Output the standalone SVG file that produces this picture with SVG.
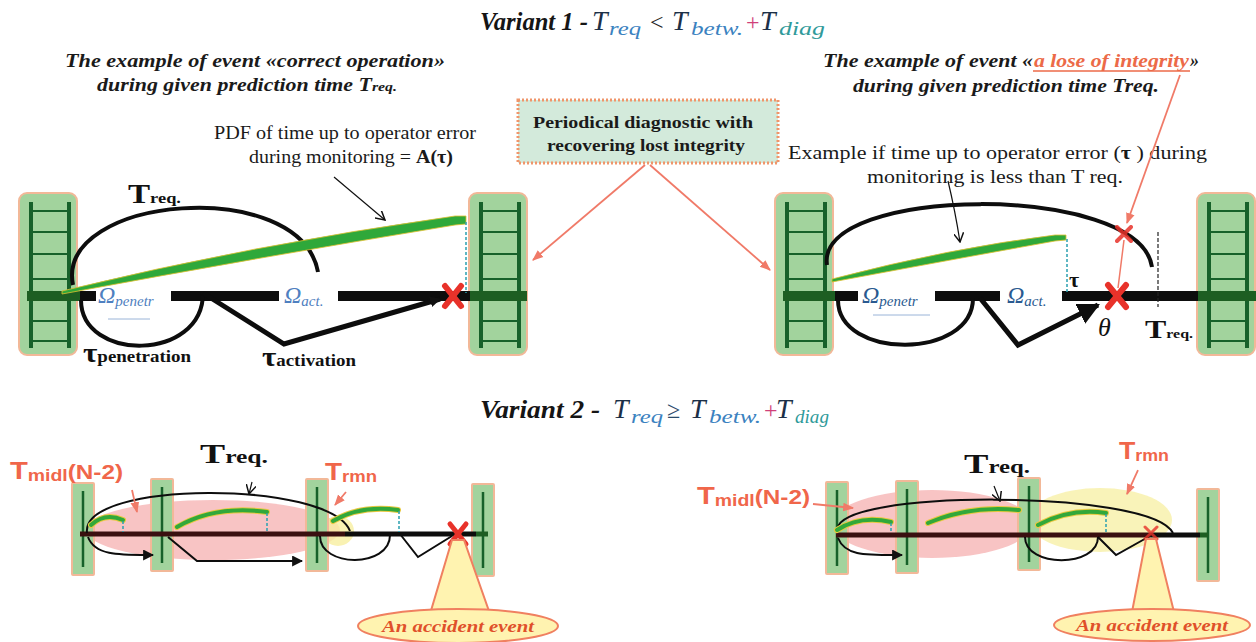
<svg xmlns="http://www.w3.org/2000/svg" xmlns:xlink="http://www.w3.org/1999/xlink" width="1256" height="642" viewBox="0 0 1256 642">
<style>
.serif{font-family:"Liberation Serif","Times New Roman",serif}
.ttl{font-family:"Liberation Serif","Times New Roman",serif;font-weight:bold;font-style:italic;font-size:25px;fill:#151515}
.tv{font-family:"Liberation Serif","Times New Roman",serif;font-style:italic;font-size:28px;fill:#1c3048}
.tsub{font-family:"Liberation Serif","Times New Roman",serif;font-style:italic;font-size:18px;fill:#3b82c0}
.sub{font-family:"Liberation Serif","Times New Roman",serif;font-weight:bold;font-style:italic;font-size:18px;fill:#1a1a1a}
.body{font-family:"Liberation Serif","Times New Roman",serif;font-size:18px;fill:#1a1a1a}
.boxt{font-family:"Liberation Serif","Times New Roman",serif;font-weight:bold;font-size:17px;fill:#1a1a1a}
.om{font-family:"Liberation Serif","Times New Roman",serif;font-style:italic;fill:#2a5a90}
.lbl{font-family:"Liberation Serif","Times New Roman",serif;font-weight:bold;fill:#111}
.red{font-family:"Liberation Sans",Arial,sans-serif;font-weight:bold;fill:#f0664a}
.acc{font-family:"Liberation Serif","Times New Roman",serif;font-weight:bold;font-style:italic;font-size:17px;fill:#e0502a}
.bar{stroke-width:10;fill:none}
.blk{stroke:#0d0d0d}
.grn{stroke:#1d5e22}
.arc{fill:none;stroke:#0d0d0d;stroke-width:4}
.arc2{fill:none;stroke:#0d0d0d;stroke-width:2}
.pdfy{fill:none;stroke:#e8c840;stroke-width:6;stroke-linecap:round}
.pdfg{fill:none;stroke:#32a83a;stroke-width:4;stroke-linecap:round}
.dash{stroke:#2aa0b0;stroke-width:1.5;stroke-dasharray:3 2}
.xr{stroke:#e8322a;stroke-linecap:round}
.redln{stroke:#f07a68;stroke-width:1.8;fill:none}
.rail{fill:#a2d39d;stroke:#f2b898;stroke-width:2}
.rl{stroke:#17612a}
.callout{fill:#fff3b0;stroke:#f08060;stroke-width:2}
</style>
<defs>
<marker id="ahRed" viewBox="0 0 10 10" refX="9" refY="5" markerWidth="11" markerHeight="11" markerUnits="userSpaceOnUse" orient="auto"><path d="M0,1 L10,5 L0,9 z" fill="#f07a68"/></marker>
<marker id="ahV" viewBox="0 0 10 10" refX="9" refY="5" markerWidth="10" markerHeight="10" markerUnits="userSpaceOnUse" orient="auto"><path d="M0,0 L9,5 L0,10" fill="none" stroke="#111" stroke-width="1.5"/></marker>
<marker id="ahF" viewBox="0 0 10 10" refX="9" refY="5" markerWidth="11" markerHeight="11" markerUnits="userSpaceOnUse" orient="auto"><path d="M0,0 L10,5 L0,10 z" fill="#111"/></marker>
<marker id="ahBig" viewBox="0 0 10 10" refX="9" refY="5" markerWidth="22" markerHeight="22" markerUnits="userSpaceOnUse" orient="auto"><path d="M0,0 L10,5 L0,10 z" fill="#0d0d0d"/></marker>
<g id="railBig">
<rect x="0" y="0" width="58" height="162" rx="8" class="rail"/>
<g class="rl" stroke-width="4"><line x1="12" y1="9" x2="12" y2="155"/><line x1="50" y1="9" x2="50" y2="155"/></g>
<g class="rl" stroke-width="2"><line x1="12" y1="18" x2="50" y2="18"/><line x1="12" y1="39" x2="50" y2="39"/><line x1="12" y1="61" x2="50" y2="61"/><line x1="12" y1="86" x2="50" y2="86"/><line x1="12" y1="106" x2="50" y2="106"/><line x1="12" y1="128" x2="50" y2="128"/><line x1="12" y1="148" x2="50" y2="148"/></g>
</g>
<g id="railSmall">
<rect x="0" y="0" width="22" height="92" class="rail" rx="1"/>
<line x1="11" y1="8" x2="11" y2="84" class="rl" stroke-width="2.5"/>
</g>
</defs>
<rect width="1256" height="642" fill="#ffffff"/>

<g id="title1">
<text x="480" y="30" class="ttl" textLength="108" lengthAdjust="spacingAndGlyphs">Variant 1 -</text>
<text x="592" y="30" class="tv">T</text><text x="609" y="35" class="tsub" textLength="32" lengthAdjust="spacingAndGlyphs">req</text>
<text x="650" y="30" class="serif" font-size="24" fill="#222">&lt;</text>
<text x="672" y="30" class="tv">T</text><text x="691" y="35" class="tsub" textLength="52" lengthAdjust="spacingAndGlyphs">betw.</text>
<text x="746" y="30" class="serif" font-size="24" fill="#d0407a">+</text>
<text x="760" y="30" class="tv">T</text><text x="779" y="35" class="tsub" style="fill:#2f9a9a" textLength="46" lengthAdjust="spacingAndGlyphs">diag</text>
</g>

<g id="subtitle-left">
<text x="65" y="67" class="sub" textLength="380" lengthAdjust="spacingAndGlyphs">The example of event «correct operation»</text>
<text x="97" y="91" class="sub" textLength="300" lengthAdjust="spacingAndGlyphs">during given prediction time T<tspan font-size="13">req.</tspan></text>
</g>

<g id="subtitle-right">
<text x="823" y="67" class="sub" textLength="210" lengthAdjust="spacingAndGlyphs">The example of event «</text>
<text x="1034" y="67" class="sub" style="fill:#ec6a48" textLength="155" lengthAdjust="spacingAndGlyphs">a lose of integrity</text>
<line x1="1033" y1="71" x2="1190" y2="71" stroke="#ec6a48" stroke-width="1.5"/>
<text x="1190" y="67" class="sub">»</text>
<text x="853" y="92" class="sub" textLength="306" lengthAdjust="spacingAndGlyphs">during given prediction time Treq.</text>
</g>

<g id="diag-box">
<rect x="518" y="100" width="260" height="63" fill="#d3eadb" stroke="#f0956a" stroke-width="3" stroke-dasharray="2 2"/>
<text x="533" y="128" class="boxt" textLength="220" lengthAdjust="spacingAndGlyphs">Periodical  diagnostic with</text>
<text x="547" y="151" class="boxt" textLength="198" lengthAdjust="spacingAndGlyphs">recovering  lost integrity</text>
</g>

<g id="pdf-label">
<text x="214" y="139" class="body" textLength="262" lengthAdjust="spacingAndGlyphs">PDF  of time up to operator error</text>
<text x="249" y="163" class="body" textLength="204" lengthAdjust="spacingAndGlyphs">during monitoring = <tspan font-weight="bold">A(τ)</tspan></text>
</g>

<g id="example-label">
<text x="788" y="159" class="body" textLength="419" lengthAdjust="spacingAndGlyphs">Example if time up to operator error (<tspan font-weight="bold">τ</tspan> ) during</text>
<text x="867" y="183" class="body" textLength="256" lengthAdjust="spacingAndGlyphs">monitoring is less than T req.</text>
</g>

<g id="left-diagram">
<use xlink:href="#railBig" x="19" y="193"/>
<use xlink:href="#railBig" x="469" y="193"/>
<line x1="27" y1="296" x2="80" y2="296" class="bar grn"/>
<g class="bar blk"><line x1="80" y1="296" x2="96" y2="296"/><line x1="171" y1="296" x2="279" y2="296"/><line x1="338" y1="296" x2="472" y2="296"/></g>
<line x1="470" y1="296" x2="527" y2="296" class="bar grn"/>
<path d="M73 285 C55 195 300 175 318 272" class="arc"/>
<path d="M81 300 C81 362 203 362 203 293" class="arc"/>
<path d="M62 291 Q250 245 455 216 L466 216 L466 224 L455 225 Q255 258 62 294 Z" fill="#2fa83a" stroke="#e0c030" stroke-width="0.8"/>
<line x1="466" y1="222" x2="466" y2="293" class="dash"/>
<text x="98" y="303" class="om" font-size="24" style="fill:#4f80c0">Ω<tspan font-size="15" dy="3">penetr</tspan></text>
<line x1="108" y1="319" x2="150" y2="319" stroke="#9ab4d8" stroke-width="1"/>
<text x="284" y="303" class="om" font-size="24" style="fill:#4f80c0">Ω<tspan font-size="15" dy="3">act.</tspan></text>
<g class="xr" stroke-width="6"><line x1="445" y1="286" x2="461" y2="306"/><line x1="461" y1="286" x2="445" y2="306"/></g>
<text x="128" y="203" class="lbl" textLength="53" lengthAdjust="spacingAndGlyphs"><tspan font-size="27">T</tspan><tspan font-size="15">req.</tspan></text>
<text x="83" y="362" class="lbl" textLength="108" lengthAdjust="spacingAndGlyphs"><tspan font-size="28">τ</tspan><tspan font-size="17">penetration</tspan></text>
<text x="262" y="366" class="lbl" textLength="94" lengthAdjust="spacingAndGlyphs"><tspan font-size="28">τ</tspan><tspan font-size="17">activation</tspan></text>
</g>

<g id="right-diagram">
<use xlink:href="#railBig" x="775" y="193"/>
<use xlink:href="#railBig" x="1197" y="193"/>
<line x1="783" y1="296" x2="835" y2="296" class="bar grn"/>
<g class="bar blk"><line x1="835" y1="296" x2="858" y2="296"/><line x1="935" y1="296" x2="1000" y2="296"/><line x1="1062" y1="296" x2="1200" y2="296"/></g>
<line x1="1198" y1="296" x2="1256" y2="296" class="bar grn"/>
<path d="M827 265 C815 185 1140 182 1152 267" class="arc"/>
<path d="M838 300 C838 360 973 360 973 298" class="arc"/>
<path d="M832 279 Q950 248 1055 235 L1066 235 L1066 240 L1055 241 Q955 259 832 282 Z" fill="#2fa83a" stroke="#e0c030" stroke-width="0.8"/>
<line x1="1067" y1="239" x2="1067" y2="293" class="dash"/>
<line x1="1158" y1="232" x2="1158" y2="307" stroke="#222" stroke-width="1.2" stroke-dasharray="4 2"/>
<text x="862" y="303" class="om" font-size="24">Ω<tspan font-size="15" dy="3">penetr</tspan></text>
<line x1="873" y1="315" x2="930" y2="315" stroke="#9ab4d8" stroke-width="1"/>
<text x="1007" y="303" class="om" font-size="24">Ω<tspan font-size="15" dy="3">act.</tspan></text>
<line x1="1124" y1="240" x2="1118" y2="288" stroke="#f07a68" stroke-width="1.5"/>
<g class="xr" stroke-width="4" opacity="0.85"><line x1="1117" y1="227" x2="1131" y2="241"/><line x1="1131" y1="227" x2="1117" y2="241"/></g>
<g class="xr" stroke-width="6"><line x1="1108" y1="285" x2="1126" y2="307"/><line x1="1126" y1="285" x2="1108" y2="307"/></g>
<text x="1069" y="287" class="lbl" font-size="22">τ</text>
<text x="1098" y="336" class="serif" font-style="italic" font-size="26" fill="#111">θ</text>
<text x="1145" y="338" class="lbl" textLength="48" lengthAdjust="spacingAndGlyphs"><tspan font-size="26">T</tspan><tspan font-size="13">req.</tspan></text>
</g>

<g id="title2">
<text x="480" y="418" class="ttl" textLength="120" lengthAdjust="spacingAndGlyphs">Variant 2 -</text>
<text x="613" y="418" class="tv">T</text><text x="631" y="423" class="tsub" textLength="32" lengthAdjust="spacingAndGlyphs">req</text>
<text x="667" y="418" class="serif" font-size="24" fill="#2a4a6a">≥</text>
<text x="690" y="418" class="tv">T</text><text x="709" y="423" class="tsub" textLength="52" lengthAdjust="spacingAndGlyphs">betw.</text>
<text x="764" y="418" class="serif" font-size="24" fill="#d0407a">+</text>
<text x="776" y="418" class="tv">T</text><text x="795" y="423" class="tsub" style="fill:#2f9a9a" textLength="34" lengthAdjust="spacingAndGlyphs">diag</text>
</g>

<g id="bottom-left">
<ellipse cx="213" cy="530" rx="127" ry="30" fill="#f6b0b0" opacity="0.75"/>
<ellipse cx="338" cy="531" rx="16" ry="15" fill="#f7efa0" opacity="0.8"/>
<use xlink:href="#railSmall" x="72" y="483"/>
<use xlink:href="#railSmall" x="151" y="479"/>
<use xlink:href="#railSmall" x="306" y="479"/>
<use xlink:href="#railSmall" x="472" y="484"/>
<line x1="80" y1="534" x2="345" y2="534" stroke="#3a1010" stroke-width="5"/>
<line x1="345" y1="534" x2="476" y2="534" stroke="#0d0d0d" stroke-width="5"/>
<line x1="476" y1="534" x2="488" y2="534" stroke="#1d5e22" stroke-width="5"/>
<path d="M87 533 C80 480 330 480 350 531" class="arc2"/>
<path d="M320 536 C320 568 390 568 390 535" class="arc2"/>
<path d="M400 534 L418 557 L452 536" class="arc2"/>
<path d="M88 537 C95 556 120 555 153 555" class="arc2" marker-end="url(#ahF)"/>
<path d="M168 537 L197 561 L302 561" class="arc2" marker-end="url(#ahF)"/>
<path d="M91 525 Q105 512 123 520" class="pdfy"/><path d="M91 525 Q105 512 123 520" class="pdfg"/>
<path d="M177 527 Q215 505 267 512" class="pdfy"/><path d="M177 527 Q215 505 267 512" class="pdfg"/>
<path d="M333 521 Q360 505 398 510" class="pdfy"/><path d="M333 521 Q360 505 398 510" class="pdfg"/>
<line x1="123" y1="521" x2="123" y2="532" class="dash"/>
<line x1="267" y1="513" x2="267" y2="532" class="dash"/>
<line x1="399" y1="511" x2="399" y2="532" class="dash"/>
<g class="xr" stroke-width="5"><line x1="450" y1="524" x2="466" y2="544"/><line x1="466" y1="524" x2="450" y2="544"/></g>
<text x="200" y="463" class="lbl" textLength="68" lengthAdjust="spacingAndGlyphs"><tspan font-size="28">T</tspan><tspan font-size="19">req.</tspan></text>
<text x="10" y="479" class="red" textLength="113" lengthAdjust="spacingAndGlyphs"><tspan font-size="24">T</tspan><tspan font-size="16" dy="2">midl</tspan><tspan font-size="20" dy="-2">(N-2)</tspan></text>
<text x="325" y="480" class="red" textLength="52" lengthAdjust="spacingAndGlyphs"><tspan font-size="24">T</tspan><tspan font-size="16" dy="2">rmn</tspan></text>
<line x1="132" y1="490" x2="137" y2="512" class="redln" marker-end="url(#ahRed)"/>
<line x1="346" y1="492" x2="335" y2="505" class="redln" marker-end="url(#ahRed)"/>
<line x1="252" y1="482" x2="249" y2="494" stroke="#111" stroke-width="1.2" marker-end="url(#ahV)"/>
<polygon points="452,540 464,540 490,614 430,614" class="callout"/>
<ellipse cx="458" cy="626" rx="100" ry="17" class="callout"/>
<text x="382" y="632" class="acc" textLength="152" lengthAdjust="spacingAndGlyphs">An accident event</text>
</g>

<g id="bottom-right">
<ellipse cx="932" cy="524" rx="100" ry="34" fill="#f6b0b0" opacity="0.75"/>
<ellipse cx="1100" cy="520" rx="72" ry="32" fill="#f8f0a8" opacity="0.8"/>
<use xlink:href="#railSmall" x="826" y="482"/>
<use xlink:href="#railSmall" x="896" y="481"/>
<use xlink:href="#railSmall" x="1018" y="478"/>
<use xlink:href="#railSmall" x="1197" y="489"/>
<line x1="836" y1="535" x2="1151" y2="535" stroke="#3a1010" stroke-width="5"/>
<line x1="1151" y1="535" x2="1200" y2="535" stroke="#0d0d0d" stroke-width="5"/>
<line x1="1200" y1="535" x2="1208" y2="535" stroke="#1d5e22" stroke-width="5"/>
<path d="M838 530 C830 490 1150 488 1173 533" class="arc2"/>
<path d="M1025 537 C1025 568 1098 568 1098 537" class="arc2"/>
<path d="M1098 537 L1116 555 L1150 536" class="arc2"/>
<path d="M838 538 C845 556 865 555 902 555" class="arc2" marker-end="url(#ahF)"/>
<path d="M837 530 Q860 515 891 522" class="pdfy"/><path d="M837 530 Q860 515 891 522" class="pdfg"/>
<path d="M928 523 Q970 505 1019 510" class="pdfy"/><path d="M928 523 Q970 505 1019 510" class="pdfg"/>
<path d="M1038 525 Q1070 508 1106 513" class="pdfy"/><path d="M1038 525 Q1070 508 1106 513" class="pdfg"/>
<line x1="891" y1="523" x2="891" y2="533" class="dash"/>
<line x1="1106" y1="514" x2="1106" y2="533" class="dash"/>
<g class="xr" stroke-width="3" opacity="0.8"><line x1="1145" y1="527" x2="1157" y2="539"/><line x1="1157" y1="527" x2="1145" y2="539"/></g>
<text x="964" y="473" class="lbl" textLength="66" lengthAdjust="spacingAndGlyphs"><tspan font-size="28">T</tspan><tspan font-size="19">req.</tspan></text>
<text x="697" y="504" class="red" textLength="113" lengthAdjust="spacingAndGlyphs"><tspan font-size="24">T</tspan><tspan font-size="16" dy="2">midl</tspan><tspan font-size="20" dy="-2">(N-2)</tspan></text>
<text x="1119" y="459" class="red" textLength="50" lengthAdjust="spacingAndGlyphs"><tspan font-size="24">T</tspan><tspan font-size="16" dy="2">rmn</tspan></text>
<line x1="813" y1="504" x2="853" y2="508" class="redln" marker-end="url(#ahRed)"/>
<line x1="1138" y1="470" x2="1127" y2="494" class="redln" marker-end="url(#ahRed)"/>
<line x1="994" y1="486" x2="1000" y2="501" stroke="#111" stroke-width="1.2" marker-end="url(#ahV)"/>
<polygon points="1146,539 1156,539 1174,612 1132,612" class="callout"/>
<ellipse cx="1152" cy="625" rx="98" ry="16" class="callout"/>
<text x="1076" y="631" class="acc" textLength="152" lengthAdjust="spacingAndGlyphs">An accident event</text>
</g>

<g id="connectors">
<line x1="645" y1="165" x2="533" y2="260" class="redln" marker-end="url(#ahRed)"/>
<line x1="650" y1="165" x2="770" y2="270" class="redln" marker-end="url(#ahRed)"/>
<line x1="1180" y1="75" x2="1127" y2="223" class="redln" marker-end="url(#ahRed)"/>
<line x1="334" y1="177" x2="385" y2="220" stroke="#111" stroke-width="1.2" marker-end="url(#ahV)"/>
<path d="M948 181 Q955 210 960 242" fill="none" stroke="#111" stroke-width="1.2" marker-end="url(#ahV)"/>
<path d="M203 293 L284 344 L440 299" fill="none" stroke="#0d0d0d" stroke-width="5" stroke-linejoin="miter" marker-end="url(#ahF)"/>
<path d="M980 298 L1018 345 L1098 305" fill="none" stroke="#0d0d0d" stroke-width="5" marker-end="url(#ahBig)"/>
</g>
</svg>
